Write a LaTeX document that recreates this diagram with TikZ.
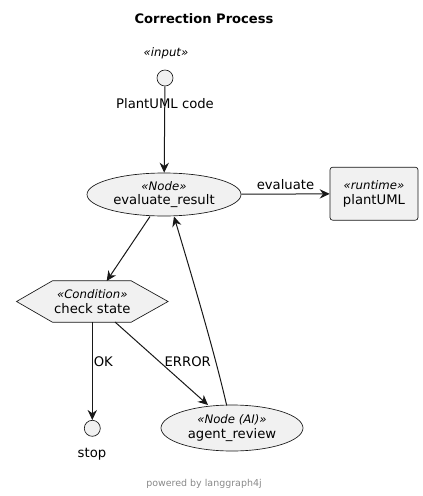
\documentclass[tikz,border=0pt]{standalone}
\usepackage{fontspec}
\setmainfont{DejaVu Sans}
\usetikzlibrary{arrows.meta,shapes.geometric}
\definecolor{nodefill}{HTML}{F1F1F1}
\definecolor{nodeline}{HTML}{181818}
\definecolor{footgrey}{HTML}{888888}
\newcommand{\stereo}[1]{{\fontsize{8.8}{10.5}\selectfont\itshape #1}}
\newcommand{\bodytext}{\fontsize{9.9}{12}\selectfont}
\begin{document}
\begin{tikzpicture}[x=0.75pt,y=-0.75pt,
  every node/.style={font=\bodytext, inner sep=0pt},
  elnode/.style={ellipse, draw=nodeline, fill=nodefill, line width=0.5pt, align=center},
  hexnode/.style={draw=none, align=center},
  boxnode/.style={rectangle, rounded corners=2pt, draw=nodeline, fill=nodefill, line width=0.5pt, align=center},
  dotnode/.style={circle, draw=nodeline, fill=nodefill, line width=0.5pt, minimum size=16*0.75pt},
  conn/.style={draw=nodeline, line width=0.75pt, -{Stealth[length=7.5pt, width=7pt, inset=2.5pt]}},
  lbl/.style={font=\bodytext}
]
\useasboundingbox (0,0) rectangle (422,496);
% title
\node[font=\fontsize{9.8}{12}\selectfont\bfseries] (title) at (204,19) {Correction Process};
% input
\node (instereo) at (166,53) {\stereo{«input»}};
\node[dotnode] (input) at (165,78) {};
% evaluate_result
\node[elnode, minimum width=154*0.75pt, minimum height=43*0.75pt] (eval) at (164,194.5)
  {\stereo{«Node»}\\[-1pt]evaluate\_result};
% plantUML runtime
\node[boxnode, minimum width=88*0.75pt, minimum height=53*0.75pt] (plant) at (374,193.7)
  {\stereo{«runtime»}\\[-1pt]plantUML};
% check state hexagon
\node[hexnode, minimum width=151*0.75pt, minimum height=41*0.75pt] (check) at (92.3,301.5) {};
\filldraw[draw=nodeline, fill=nodefill, line width=0.5pt]
  (check.west) -- ([xshift=36*0.75pt]check.north west) -- ([xshift=-37*0.75pt]check.north east)
  -- (check.east) -- ([xshift=-37*0.75pt]check.south east) -- ([xshift=36*0.75pt]check.south west) -- cycle;
\node[hexnode] (checktext) at (check.center)
  {\stereo{«Condition»}\\[-1pt]check state};
% agent_review
\node[elnode, minimum width=142*0.75pt, minimum height=46*0.75pt] (agent) at (232,428)
  {\stereo{«Node (AI)»}\\[-1pt]agent\_review};
% stop
\node[dotnode] (stop) at (92.3,428.3) {};
\node (stoplbl) at (92,454) {stop};
% connectors
\draw[conn] (input) -- (eval);
\node (inlbl) at (165,104) {PlantUML code};
\draw[conn] (eval) -- node[above=3pt, lbl] (evallbl) {evaluate} (plant);
\coordinate (evs) at (150,216.5);
\coordinate (chn) at (106.7,281);
\draw[conn] (evs) -- (chn);
\coordinate (chs) at (92.3,322);
\draw[conn] (chs) -- (stop.north);
\node[anchor=west] (oklbl) at (93.5,361.5) {OK};
\coordinate (cherr) at (115,322);
\coordinate (agn) at (208,405);
\draw[conn] (cherr) -- (agn);
\node (errlbl) at (187.7,361.5) {ERROR};
\coordinate (agtop) at (226.7,405.5);
\coordinate (evin) at (174,216.5);
\draw[conn] (agtop) .. controls (214,350) and (190,270) .. (evin);
% footer
\node[text=footgrey, font=\fontsize{7.1}{9}\selectfont] (foot) at (204,484.3) {powered by langgraph4j};
\end{tikzpicture}
\end{document}
